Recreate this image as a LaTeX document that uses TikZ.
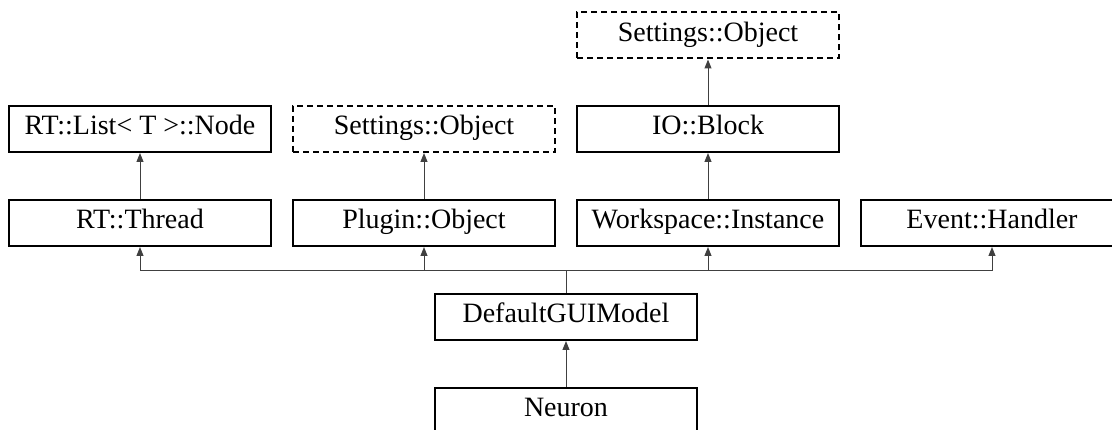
\documentclass[tikz,border=0pt]{standalone}
\usepackage{fontspec}
\setmainfont{Liberation Serif}
\usetikzlibrary{arrows.meta}
\begin{document}
\begin{tikzpicture}[x=1pt,y=-1pt,
  cls/.style={draw=black, line width=2pt, fill=white, minimum width=262pt, minimum height=46pt, inner sep=0pt, text height=19pt, text depth=7pt, font=\fontsize{28}{32}\selectfont},
  ext/.style={cls, dashed, dash pattern=on 6pt off 4pt},
  conn/.style={draw=black!75, line width=1pt},
  inh/.style={conn, -{Triangle[length=9pt,width=7pt]}}]
\useasboundingbox (0,0) rectangle (1112,430);
\clip (0,0) rectangle (1112,430);
\node[ext] (so1) at (708,35.5) {Settings::Object};
\node[cls] (rtl) at (140,129) {RT::List< T >::Node};
\node[ext] (so2) at (424,129) {Settings::Object};
\node[cls] (iob) at (708,129) {IO::Block};
\node[cls] (rtt) at (140,223) {RT::Thread};
\node[cls] (plo) at (424,223) {Plugin::Object};
\node[cls] (wsi) at (708,223) {Workspace::Instance};
\node[cls] (evh) at (992,223) {Event::Handler};
\node[cls] (dgm) at (566,317) {DefaultGUIModel};
\node[cls] (neu) at (566,411) {Neuron};
\coordinate (bus) at (566,271);
\draw[inh] (iob.north) -- (so1.south);
\draw[inh] (rtt.north) -- (rtl.south);
\draw[inh] (plo.north) -- (so2.south);
\draw[inh] (wsi.north) -- (iob.south);
\draw[conn] (dgm.north) -- (bus);
\draw[inh] (bus) -| (rtt.south);
\draw[inh] (bus) -| (plo.south);
\draw[inh] (bus) -| (wsi.south);
\draw[inh] (bus) -| (evh.south);
\draw[inh] (neu.north) -- (dgm.south);
\end{tikzpicture}
\end{document}
